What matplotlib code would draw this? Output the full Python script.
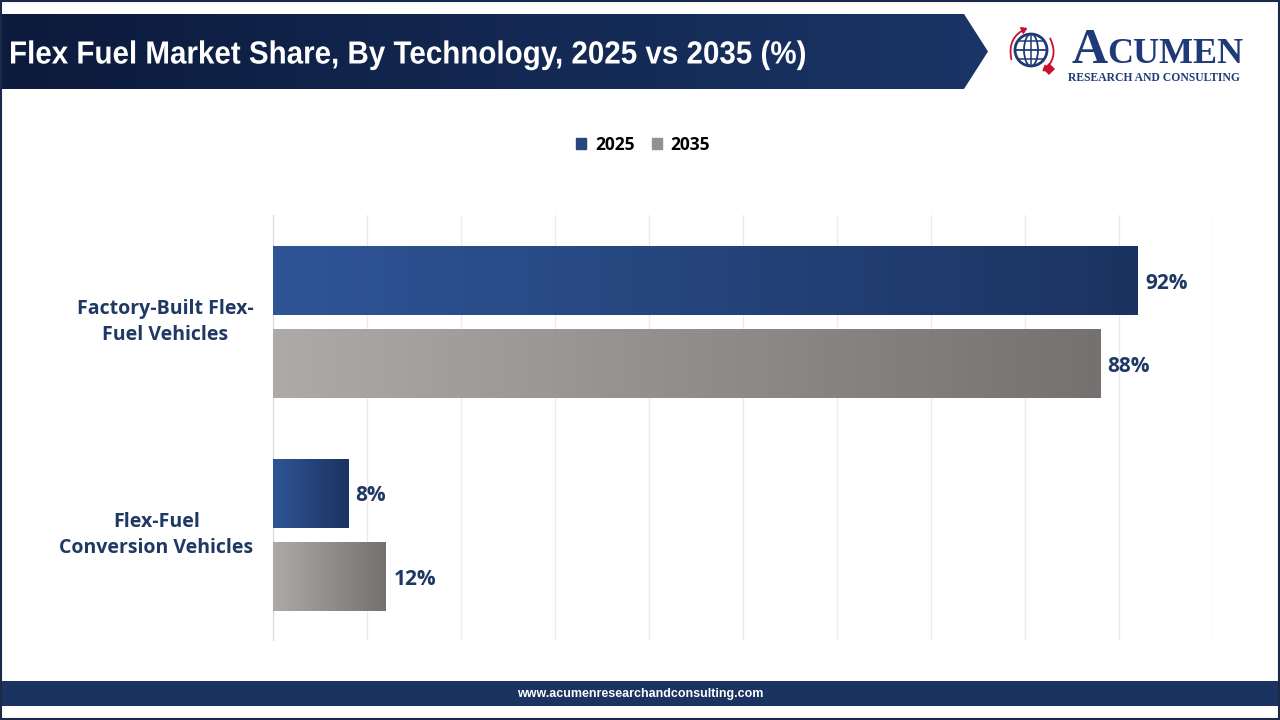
import numpy as np
import matplotlib
matplotlib.use("Agg")
import matplotlib.pyplot as plt
from matplotlib.patches import Polygon, Rectangle, Circle, Ellipse, PathPatch, FancyArrowPatch
from matplotlib.colors import LinearSegmentedColormap
from matplotlib.textpath import TextPath
from matplotlib.font_manager import FontProperties
from matplotlib.transforms import Affine2D, ScaledTranslation

categories = ["Factory-Built Flex-\nFuel Vehicles", "Flex-Fuel\nConversion Vehicles"]
years = ["2025", "2035"]
share_2025 = [92, 8]
share_2035 = [88, 12]
title = "Flex Fuel Market Share, By Technology, 2025 vs 2035 (%)"

navy = "#1f3864"
grad_2025 = LinearSegmentedColormap.from_list("g25", ["#2f5597", "#1b3360"])
grad_2035 = LinearSegmentedColormap.from_list("g35", ["#aeaaaa", "#767171"])

fig = plt.figure(figsize=(12.8, 7.2), dpi=100)
fig.patch.set_facecolor("white")

fig.add_artist(Rectangle((0.001, 0.001), 0.998, 0.998, transform=fig.transFigure,
                         fill=False, edgecolor="#1b2a4a", lw=1.5))

# background axes in pixel units (y down)
bax = fig.add_axes([0, 0, 1, 1], zorder=-1)
bax.axis("off")

banner_cmap = LinearSegmentedColormap.from_list("ban", ["#0c1a3c", "#1a3566"])
poly = Polygon([(0, 14), (964, 14), (988, 51.5), (964, 89), (0, 89)], closed=True,
               facecolor="none", edgecolor="none")
bax.add_patch(poly)
im = bax.imshow(np.linspace(0, 1, 256).reshape(1, -1), cmap=banner_cmap, aspect="auto",
                extent=(0, 988, 89, 14))
im.set_clip_path(poly)

# condensed title: squeeze a bold text path to the banner width
fp = FontProperties(family=["Liberation Sans", "DejaVu Sans"], weight="bold")
tp = TextPath((0, 0), title, size=30, prop=fp)
ext = tp.get_extents()
cap = TextPath((0, 0), "F", size=30, prop=fp).get_extents().height
sx = 794 / ext.width
sy = 22 / cap
tr = Affine2D().translate(-ext.x0, 0).scale(sx, -sy).translate(11, 63.5)
bax.add_patch(PathPatch(tr.transform_path(tp), facecolor="white", edgecolor="none", zorder=3))

# footer bar
bax.add_patch(Rectangle((0, 681), 1280, 25, facecolor="#1b3360", edgecolor="none"))
bax.text(640, 693.5, "www.acumenresearchandconsulting.com", color="white", fontsize=9,
         fontweight="bold", ha="center", va="center", family=["Liberation Sans", "DejaVu Sans"])

# logo
blue = "#1f3a78"
red = "#c8102e"
arc = FancyArrowPatch((1012, 62), (1030, 27), connectionstyle="arc3,rad=-0.45",
                      arrowstyle="-|>,head_length=3,head_width=2", color=red, lw=1.3)
arc2 = FancyArrowPatch((1049, 36), (1040, 73), connectionstyle="arc3,rad=-0.45",
                       arrowstyle="-|>,head_length=3,head_width=2", color=red, lw=1.3)
bax.add_patch(arc)
bax.add_patch(arc2)
bax.add_patch(Circle((1031, 50), 16, facecolor="white", edgecolor=blue, lw=2))
bax.add_patch(Ellipse((1031, 50), 14, 32, facecolor="none", edgecolor=blue, lw=1.3))
bax.plot([1015, 1047], [50, 50], color=blue, lw=1.3)
bax.plot([1018, 1044], [41, 41], color=blue, lw=1.1)
bax.plot([1018, 1044], [59, 59], color=blue, lw=1.1)
bax.plot([1031, 1031], [34, 66], color=blue, lw=1.1)
bax.add_patch(Polygon([(1049, 63), (1055, 69), (1049, 75), (1043, 69)], facecolor=red))
bax.text(1072, 63, "A", color=blue, fontsize=36, fontweight="bold", family="Liberation Serif",
         ha="left", va="baseline")
bax.text(1107, 63, "CUMEN", color=blue, fontsize=26, fontweight="bold", family="Liberation Serif",
         ha="left", va="baseline")
bax.text(1068, 81, "RESEARCH AND CONSULTING", color=blue, fontsize=8.4, fontweight="bold",
         family="Liberation Serif", ha="left", va="baseline")
bax.set_xlim(0, 1280)
bax.set_ylim(720, 0)

# main chart
ax = fig.add_axes([273 / 1280, 1 - 640 / 720, 940 / 1280, 425 / 720])
y = np.arange(len(categories))
h = 0.322
off = 0.196
bars25 = ax.barh(y - off, share_2025, height=h, color="#2f5597", label=years[0], zorder=2)
bars35 = ax.barh(y + off, share_2035, height=h, color="#aeaaaa", label=years[1], zorder=2)

grad = np.linspace(0, 1, 256).reshape(1, -1)
for bars, cmap in ((bars25, grad_2025), (bars35, grad_2035)):
    for p in bars:
        x0, y0 = p.get_x(), p.get_y()
        w, hh = p.get_width(), p.get_height()
        ax.imshow(grad, cmap=cmap, aspect="auto", extent=(x0, x0 + w, y0 + hh, y0), zorder=3)
        ax.text(x0 + w + 0.8, y0 + hh / 2, f"{w:.0f}%", color=navy, fontsize=15,
                fontweight="bold", va="center_baseline", ha="left",
                family=["Open Sans", "DejaVu Sans"])

ax.set_xlim(0, 100)
ax.set_ylim(1.494, -0.506)
ax.set_xticks(np.arange(0, 101, 10))
ax.set_xticklabels([])
ax.tick_params(axis="x", length=0)
ax.grid(axis="x", color="#ebebeb", lw=1, zorder=0)
ax.set_yticks(y)
ax.set_yticklabels(categories, multialignment="center", color=navy, fontsize=14,
                   fontweight="bold", family=["Open Sans", "DejaVu Sans"], linespacing=1.4)
ax.tick_params(axis="y", length=0, pad=14)
for lbl in ax.get_yticklabels():
    lbl.set_transform(lbl.get_transform() + ScaledTranslation(0, 4 / 72, fig.dpi_scale_trans))
for s in ("top", "right", "bottom"):
    ax.spines[s].set_visible(False)
ax.spines["left"].set_color("#d9d9d9")

leg = fig.legend(handles=[bars25, bars35], labels=years, loc="center",
                 bbox_to_anchor=(643 / 1280, 1 - 145 / 720), ncol=2, frameon=False,
                 handlelength=0.6, handleheight=0.6, handletextpad=0.5, columnspacing=1.0,
                 prop={"family": ["Open Sans", "DejaVu Sans"], "weight": "bold", "size": 12.5})
leg.legend_handles[0].set_color("#25467f")
leg.legend_handles[1].set_color("#929090")

fig.savefig("out.png", dpi=100)
